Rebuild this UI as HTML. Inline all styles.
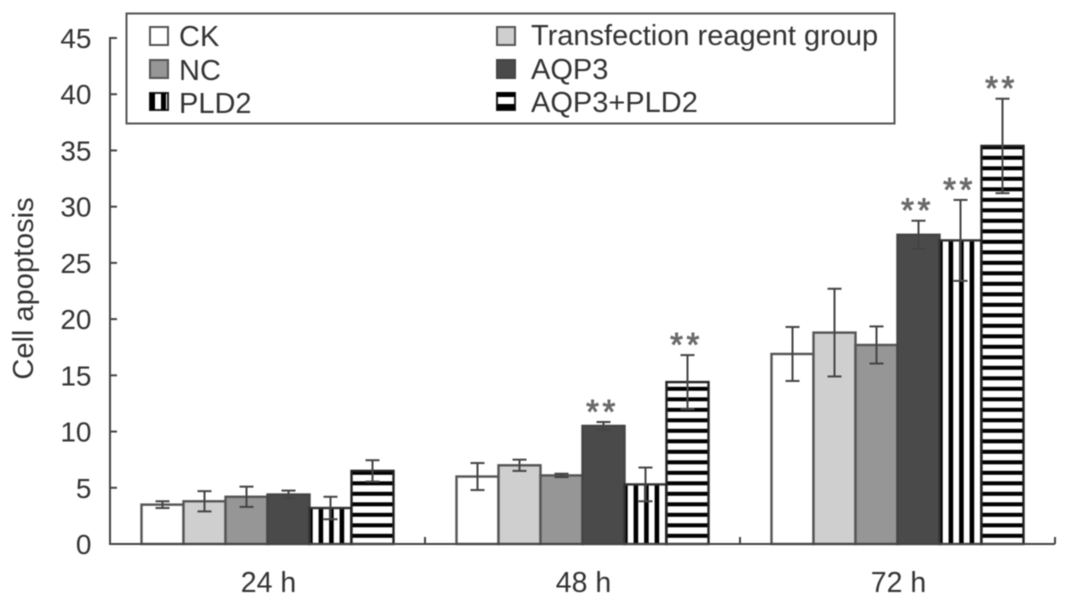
<!DOCTYPE html>
<html lang="en">
<head>
<meta charset="utf-8">
<title>Cell apoptosis chart</title>
<style>
html,body{margin:0;padding:0;background:#fff;width:1068px;height:604px;overflow:hidden}
svg{display:block;filter:blur(0.5px)}
text{font-family:"Liberation Sans",sans-serif;fill:#333}
</style>
</head>
<body>
<svg id="chart" xmlns="http://www.w3.org/2000/svg" width="1068" height="604" viewBox="0 0 1068 604">
  <defs>
    <pattern id="vstripe" patternUnits="userSpaceOnUse" x="0" y="0" width="10.5" height="10.5">
      <rect width="10.5" height="10.5" fill="#fff"/>
      <rect x="3.6" y="0" width="4.6" height="10.5" fill="#000"/>
    </pattern>
    <pattern id="hstripe" patternUnits="userSpaceOnUse" x="0" y="0" width="10.5" height="10.5">
      <rect width="10.5" height="10.5" fill="#fff"/>
      <rect x="0" y="0" width="10.5" height="2.3" fill="#000"/>
      <rect x="0" y="8.8" width="10.5" height="1.7" fill="#000"/>
    </pattern>
  </defs>
  <g id="bars"></g>
  <g id="errors"></g>
  <g id="stars"></g>
  <g id="axes"></g>
  <text transform="translate(33,288.5) rotate(-90)" text-anchor="middle" font-size="29">Cell apoptosis</text>
  <g id="legend">
    <rect x="126.5" y="13.5" width="768" height="110" fill="#fff" stroke="#555" stroke-width="2"/>
    <g>
      <rect x="150" y="27" width="18" height="18" fill="#fff" stroke="#555" stroke-width="2"/>
      <text x="179" y="46" font-size="29">CK</text>
    </g>
    <g>
      <rect x="150" y="60" width="18" height="18" fill="#969696" stroke="#555" stroke-width="2"/>
      <text x="179" y="80" font-size="29">NC</text>
    </g>
    <g>
      <rect x="150" y="93" width="18" height="17" fill="#fff" stroke="#222" stroke-width="2"/>
      <rect x="150" y="93" width="5" height="17" fill="#000"/>
      <rect x="161" y="93" width="5" height="17" fill="#000"/>
      <text x="179" y="113" font-size="29">PLD2</text>
    </g>
    <g>
      <rect x="497" y="27" width="18" height="18" fill="#cfcfcf" stroke="#555" stroke-width="2"/>
      <text x="531" y="45" font-size="29">Transfection reagent group</text>
    </g>
    <g>
      <rect x="497" y="60" width="18" height="18" fill="#4a4a4a" stroke="#444" stroke-width="2"/>
      <text x="531" y="79" font-size="29">AQP3</text>
    </g>
    <g>
      <rect x="497" y="93" width="18" height="17" fill="#fff" stroke="#222" stroke-width="2"/>
      <rect x="497" y="92" width="18" height="5" fill="#000"/>
      <rect x="497" y="104" width="18" height="6" fill="#000"/>
      <text x="531" y="112" font-size="29">AQP3+PLD2</text>
    </g>
  </g>
</svg>
<script>
const categories = ["24 h", "48 h", "72 h"];
const seriesKeys = ["ck", "transfection-reagent", "nc", "aqp3", "pld2", "aqp3-pld2"];
const ckValues = [3.5, 6.0, 16.9];
const reagentValues = [3.8, 7.0, 18.8];
const ncValues = [4.2, 6.1, 17.7];
const aqp3Values = [4.4, 10.5, 27.5];
const pld2Values = [3.2, 5.3, 27.0];
const comboValues = [6.5, 14.4, 35.4];
const ckErrors = [0.3, 1.2, 2.4];
const reagentErrors = [0.9, 0.5, 3.9];
const ncErrors = [0.9, 0.15, 1.65];
const aqp3Errors = [0.35, 0.35, 1.25];
const pld2Errors = [1.0, 1.5, 3.6];
const comboErrors = [0.95, 2.4, 4.2];
const ckMarks = ["", "", ""];
const reagentMarks = ["", "", ""];
const ncMarks = ["", "", ""];
const aqp3Marks = ["", "**", "**"];
const pld2Marks = ["", "", "**"];
const comboMarks = ["", "**", "**"];
const yTicks = [0, 5, 10, 15, 20, 25, 30, 35, 40, 45];

const seriesValues = [ckValues, reagentValues, ncValues, aqp3Values, pld2Values, comboValues];
const seriesErrors = [ckErrors, reagentErrors, ncErrors, aqp3Errors, pld2Errors, comboErrors];
const seriesMarks = [ckMarks, reagentMarks, ncMarks, aqp3Marks, pld2Marks, comboMarks];
const fills = ["#fff", "#cfcfcf", "#969696", "#4a4a4a", "url(#vstripe)", "url(#hstripe)"];
const strokes = ["#555", "#555", "#555", "#444", "#333", "#222"];

const NS = "http://www.w3.org/2000/svg";
const plotLeft = 110, plotRight = 1055, plotBottom = 544, plotTop = 38;
const yMax = 45;
const groupWidth = (plotRight - plotLeft) / categories.length;
const barWidth = groupWidth / 7.5;

function yScale(v) { return plotBottom - (v / yMax) * (plotBottom - plotTop); }
function xGroup(g) { return plotLeft + g * groupWidth; }
function xBar(g, s) { return xGroup(g) + (groupWidth - barWidth * seriesKeys.length) / 2 + s * barWidth; }

function make(tag, attrs, parent) {
  const el = document.createElementNS(NS, tag);
  for (const k in attrs) el.setAttribute(k, attrs[k]);
  parent.appendChild(el);
  return el;
}

const barsG = document.getElementById("bars");
const errG = document.getElementById("errors");
const starG = document.getElementById("stars");
const axesG = document.getElementById("axes");

categories.forEach(function (cat, g) {
  seriesKeys.forEach(function (key, s) {
    const v = seriesValues[s][g];
    const e = seriesErrors[s][g];
    const x = xBar(g, s);
    const cx = x + barWidth / 2;
    const bar = make("rect", { x: x, y: yScale(v), width: barWidth, height: plotBottom - yScale(v), fill: fills[s], stroke: strokes[s], "stroke-width": 2.4 }, barsG);
    
    

    const stem = make("line", { x1: cx, x2: cx, y1: yScale(v + e), y2: yScale(v - e), stroke: "#444", "stroke-width": 2 }, errG);
    
    
    const capTop = make("line", { x1: cx - 7, x2: cx + 7, y1: yScale(v + e), y2: yScale(v + e), stroke: "#444", "stroke-width": 2 }, errG);
    
    
    const capBottom = make("line", { x1: cx - 7, x2: cx + 7, y1: yScale(v - e), y2: yScale(v - e), stroke: "#444", "stroke-width": 2 }, errG);
    
    

    if (seriesMarks[s][g]) {
      const star = make("text", { x: cx - 1, y: yScale(v + e) + 1, "text-anchor": "middle", "font-size": 33, "letter-spacing": 3.5 }, starG);
      star.style.fill = "#6a6a6a";
      star.style.stroke = "#6a6a6a";
      star.style.strokeWidth = "0.9px";
      star.textContent = seriesMarks[s][g];
      
      
    }
  });

  const label = make("text", { x: xGroup(g) + groupWidth / 2 + 1, y: 592, "text-anchor": "middle", "font-size": 28.5 }, axesG);
  label.textContent = cat;
  
  
});

const yAxis = make("line", { x1: plotLeft, x2: plotLeft, y1: plotTop - 1, y2: plotBottom + 1, stroke: "#444", "stroke-width": 2 }, axesG);


const xAxis = make("line", { x1: plotLeft - 1, x2: plotRight, y1: plotBottom, y2: plotBottom, stroke: "#444", "stroke-width": 2 }, axesG);



yTicks.forEach(function (t) {
  const tick = make("line", { x1: plotLeft, x2: plotLeft + 7, y1: yScale(t), y2: yScale(t), stroke: "#444", "stroke-width": 2 }, axesG);
  
  
  const lab = make("text", { x: 91.5, y: yScale(t) + 10, "text-anchor": "end", "font-size": 28 }, axesG);
  lab.textContent = t;
  
  
});

for (let g = 1; g <= categories.length; g++) {
  const tick = make("line", { x1: xGroup(g), x2: xGroup(g), y1: plotBottom, y2: plotBottom - 7, stroke: "#444", "stroke-width": 2 }, axesG);
  
  
}
</script>
</body>
</html>
